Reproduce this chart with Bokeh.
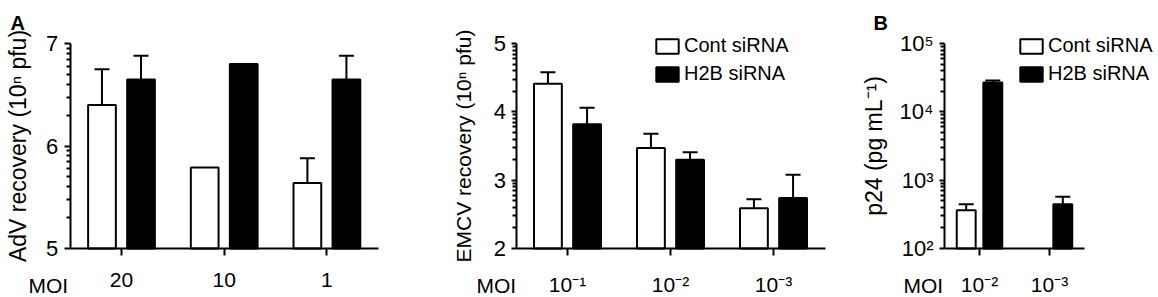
import math
from bokeh.plotting import figure
from bokeh.models import (Range1d, FixedTicker, ColumnDataSource, Whisker, TeeHead,
                          Legend, LegendItem, Label, LinearAxis, LogAxis)
from bokeh.layouts import row
from bokeh.embed import file_html
from bokeh.resources import INLINE

FONT = "Liberation Sans"

# ---------------- data ----------------
series_names = ["Cont siRNA", "H2B siRNA"]

adv_moi = ["20", "10", "1"]
adv_cont = [6.40, 5.79, 5.64]
adv_cont_err = [0.35, 0.0, 0.24]
adv_h2b = [6.65, 6.80, 6.65]
adv_h2b_err = [0.23, 0.0, 0.23]
adv_ticks = [5, 6, 7]
adv_tick_labels = ["5", "6", "7"]

emcv_moi = ["10⁻¹", "10⁻²", "10⁻³"]
emcv_cont = [4.41, 3.47, 2.59]
emcv_cont_err = [0.17, 0.21, 0.13]
emcv_h2b = [3.82, 3.30, 2.74]
emcv_h2b_err = [0.24, 0.11, 0.34]
emcv_ticks = [2, 3, 4, 5]
emcv_tick_labels = ["2", "3", "4", "5"]

p24_moi = ["10⁻²", "10⁻³"]
p24_cont = [363, float("nan")]
p24_cont_err = [82, float("nan")]
p24_h2b = [26900, 445]
p24_h2b_err = [1900, 125]
p24_ticks = [1e2, 1e3, 1e4, 1e5]
p24_tick_labels = ["10²", "10³", "10⁴", "10⁵"]

# ---------------- layout constants (pixels, local to each figure) ----------------
H = 297
AX_TOP = 43        # local y of top of the y axis
AX_BOTTOM = 248    # local y of the x axis line
OFFSET = 0.19
BAR_W = 0.27


def minor_positions(lo_dec, hi_dec, log_axis):
    out = []
    for d in range(lo_dec, hi_dec):
        for k in range(2, 10):
            out.append(k * 10 ** d if log_axis else d + math.log10(k))
    return out


def make_panel(moi, cont, cont_err, h2b, h2b_err, ylo, yhi, log_axis, ticks, tick_labels,
               ylabel, ylabel_size, width, x0, unit, ytick_out, ytick_standoff, ylabel_standoff,
               moi_x, moi_base, letter=None, letter_x=0, legend_x=None):
    n = len(moi)
    xr = Range1d(-x0 / unit, (width - x0) / unit)
    if log_axis:
        a, b = math.log10(ylo), math.log10(yhi)
    else:
        a, b = ylo, yhi
    per_px = (b - a) / (AX_BOTTOM - AX_TOP)
    y0 = a - (H - AX_BOTTOM) * per_px
    y1 = b + AX_TOP * per_px
    yr = Range1d(10 ** y0, 10 ** y1) if log_axis else Range1d(y0, y1)

    p = figure(width=width, height=H, x_range=xr, y_range=yr,
               y_axis_type="log" if log_axis else "linear",
               x_axis_location=None, y_axis_location=None, title=None,
               output_backend="svg", toolbar_location=None,
               min_border=0, min_border_left=0, min_border_right=0,
               min_border_top=0, min_border_bottom=0)
    p.xgrid.visible = False
    p.ygrid.visible = False
    p.outline_line_color = None
    p.background_fill_color = None
    p.border_fill_color = None

    xs = list(range(n))
    src = ColumnDataSource(dict(
        xc=[i - OFFSET for i in xs], xh=[i + OFFSET for i in xs],
        cont=cont, h2b=h2b))
    r1 = p.vbar(x="xc", top="cont", bottom=ylo, width=BAR_W, fill_color="white",
                line_color="black", line_width=2, source=src)
    r2 = p.vbar(x="xh", top="h2b", bottom=ylo, width=BAR_W, fill_color="black",
                line_color="black", line_width=2, source=src)

    for vals, errs, off in ((cont, cont_err, -OFFSET), (h2b, h2b_err, OFFSET)):
        bx, lo, up = [], [], []
        for i, v, e in zip(xs, vals, errs):
            if v == v and e == e and e > 0:
                bx.append(i + off)
                lo.append(v)
                up.append(v + e)
        if bx:
            ws = ColumnDataSource(dict(x=bx, lower=lo, upper=up))
            p.add_layout(Whisker(base="x", lower="lower", upper="upper", source=ws,
                                 line_width=2, line_color="black", level="overlay",
                                 upper_head=TeeHead(size=15, line_width=2, line_color="black"),
                                 lower_head=None))

    # x axis fixed at y = ylo
    xa = LinearAxis(fixed_location=ylo, bounds=(-0.5, n - 0.5),
                    ticker=FixedTicker(ticks=xs, minor_ticks=[]),
                    major_label_overrides={i: m for i, m in zip(xs, moi)})
    xa.axis_line_width = 2
    xa.axis_line_color = "black"
    xa.major_tick_line_width = 2
    xa.major_tick_out = 7
    xa.major_tick_in = 0
    xa.minor_tick_line_color = None
    xa.major_label_text_font = FONT
    xa.major_label_text_font_size = "21px"
    xa.major_label_text_color = "black"
    xa.major_label_standoff = 17
    p.add_layout(xa, "below")

    # y axis fixed at x = -0.5
    lo_dec = int(round(a))
    hi_dec = int(round(b))
    YA = LogAxis if log_axis else LinearAxis
    ya = YA(fixed_location=-0.5, bounds=(ylo, yhi),
            ticker=FixedTicker(ticks=ticks, minor_ticks=minor_positions(lo_dec, hi_dec, log_axis)),
            major_label_overrides={t: l for t, l in zip(ticks, tick_labels)})
    ya.axis_line_width = 2
    ya.axis_line_color = "black"
    ya.major_tick_line_width = 2
    ya.major_tick_out = ytick_out
    ya.major_tick_in = 0
    ya.minor_tick_line_width = 2
    ya.minor_tick_out = 4
    ya.minor_tick_in = 0
    ya.major_label_text_font = FONT
    ya.major_label_text_font_size = "22px"
    ya.major_label_text_color = "black"
    ya.major_label_standoff = ytick_standoff
    ya.axis_label = ylabel
    ya.axis_label_text_font = FONT
    ya.axis_label_text_font_size = ylabel_size
    ya.axis_label_text_font_style = "normal"
    ya.axis_label_text_color = "black"
    ya.axis_label_standoff = ylabel_standoff
    p.add_layout(ya, "left")

    p.add_layout(Label(x=moi_x, y=H - moi_base, x_units="screen", y_units="screen",
                       text="MOI", text_font=FONT, text_font_size="21px",
                       text_color="black", text_baseline="alphabetic"))
    if letter:
        p.add_layout(Label(x=letter_x, y=H - 22, x_units="screen", y_units="screen",
                           text=letter, text_font=FONT, text_font_size="20px",
                           text_font_style="bold", text_color="black",
                           text_baseline="alphabetic"))
    if legend_x is not None:
        leg = Legend(items=[LegendItem(label=series_names[0], renderers=[r1]),
                            LegendItem(label=series_names[1], renderers=[r2])],
                     location=(legend_x, H - 85), margin=0, padding=0, spacing=5,
                     glyph_width=28, glyph_height=18, label_standoff=3,
                     label_text_font=FONT, label_text_font_size="20px",
                     label_text_color="black", border_line_color=None,
                     background_fill_alpha=0)
        p.add_layout(leg)
    return p


# figure 1: x 0..400 ; figure 2: 400..835 ; figure 3: 835..1156
p1 = make_panel(adv_moi, adv_cont, adv_cont_err, adv_h2b, adv_h2b_err, 5, 7, False,
                adv_ticks, adv_tick_labels, "AdV recovery (10ⁿ pfu)", "23px",
                400, 121, 102.7, 6, 6, 12, moi_x=28, moi_base=285, letter="A", letter_x=10)
p2 = make_panel(emcv_moi, emcv_cont, emcv_cont_err, emcv_h2b, emcv_h2b_err, 2, 5, False,
                emcv_ticks, emcv_tick_labels, "EMCV recovery (10ⁿ pfu)", "21px",
                435, 167, 103, 5, 5, 16, moi_x=76, moi_base=285, legend_x=253)
p3 = make_panel(p24_moi, p24_cont, p24_cont_err, p24_h2b, p24_h2b_err, 1e2, 1e5, True,
                p24_ticks, p24_tick_labels, "p24 (pg mL⁻¹)", "23px",
                321, 144, 70, 5, 6, 10, moi_x=68, moi_base=285, letter="B", letter_x=38,
                legend_x=182)

layout = row(p1, p2, p3)
open("out.html", "w").write(file_html(layout, INLINE))
